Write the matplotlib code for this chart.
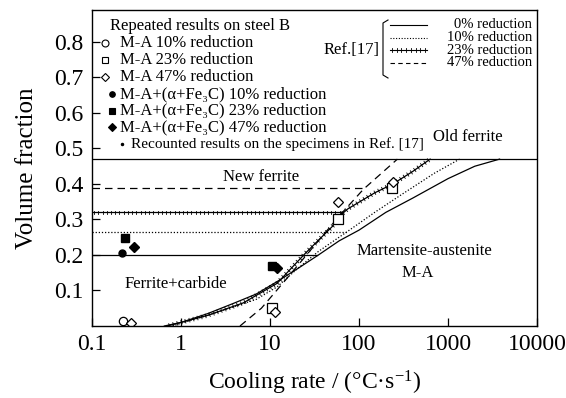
import matplotlib.pyplot as plt
import matplotlib.patheffects as pe
from matplotlib.lines import Line2D

plt.rcParams['font.family'] = ['Liberation Serif', 'DejaVu Serif']
plt.rcParams['mathtext.fontset'] = 'custom'
plt.rcParams['mathtext.rm'] = 'Liberation Serif'
plt.rcParams['mathtext.it'] = 'Liberation Serif:italic'

# Ref.[17] curves (cooling rate, volume fraction)
rate_0 = [0.65, 1, 2, 4, 7, 12, 20, 35, 60, 100, 200, 400, 1000, 2000, 3800]
frac_0 = [0.0, 0.01, 0.035, 0.065, 0.09, 0.125, 0.16, 0.2, 0.24, 0.27, 0.32, 0.36, 0.415, 0.45, 0.47]
rate_10 = [0.8, 2, 4, 7, 12, 20, 35, 73, 150, 300, 700, 1350]
frac_10 = [0.0, 0.03, 0.055, 0.075, 0.11, 0.16, 0.21, 0.265, 0.32, 0.37, 0.43, 0.47]
rate_23 = [0.7, 2, 5, 12, 25, 50, 64, 75, 150, 240, 400, 630]
frac_23 = [0.0, 0.03, 0.065, 0.12, 0.205, 0.28, 0.315, 0.33, 0.375, 0.40, 0.435, 0.47]
rate_47 = [4.6, 8, 15, 30, 60, 112, 270]
frac_47 = [0.0, 0.05, 0.13, 0.22, 0.31, 0.385, 0.47]

# plateau (new ferrite) levels and where they end
plateau_0, plateau_0_end = 0.20, 34
plateau_10, plateau_10_end = 0.265, 73
plateau_23, plateau_23_end = 0.32, 64
plateau_47, plateau_47_end = 0.39, 117
old_ferrite = 0.47

# repeated results on steel B
ma10_x, ma10_y = [0.224], [0.014]
ma23_x, ma23_y = [10.5, 58, 235], [0.05, 0.30, 0.39]
ma47_x, ma47_y = [0.275, 11.5, 58, 240], [0.008, 0.04, 0.35, 0.405]
mix10_x, mix10_y = [0.22], [0.205]
mix23_x, mix23_y = [0.235, 10.5], [0.248, 0.17]
mix47_x, mix47_y = [0.30, 12], [0.222, 0.163]

W, H = 566, 398
fig = plt.figure(figsize=(W / 100, H / 100), dpi=100)
ax = fig.add_axes([92 / W, 1 - 326 / H, (537 - 92) / W, (326 - 10) / H])


def fp(x, y):
    # figure pixel -> figure fraction
    return x / W, 1 - y / H


lw = 0.9
tick_fx = [pe.TickedStroke(spacing=3, length=0.45, angle=90, linewidth=0.6),
           pe.withTickedStroke(spacing=3, length=0.45, angle=-90, linewidth=0.6)]

ax.axhline(old_ferrite, color='k', lw=lw)
ax.plot([0.1, plateau_0_end], [plateau_0] * 2, color='k', lw=lw)
ax.plot([0.1, plateau_10_end], [plateau_10] * 2, color='k', lw=lw, linestyle=(0, (1, 1.5)))
ax.plot([0.1, plateau_23_end], [plateau_23] * 2, color='k', lw=lw, path_effects=tick_fx)
ax.plot([0.1, plateau_47_end], [plateau_47] * 2, color='k', lw=lw, linestyle=(0, (6, 4)))

ax.plot(rate_0, frac_0, color='k', lw=lw)
ax.plot(rate_10, frac_10, color='k', lw=lw, linestyle=(0, (1, 1.5)))
ax.plot(rate_23, frac_23, color='k', lw=lw, path_effects=tick_fx)
ax.plot(rate_47, frac_47, color='k', lw=lw, linestyle=(0, (6, 4)))

mk = dict(color='k', linestyle='none')
ax.plot(ma10_x, ma10_y, marker='o', mfc='white', ms=6, mew=0.9, **mk)
ax.plot(ma23_x, ma23_y, marker='s', mfc='white', ms=7, mew=0.9, **mk)
ax.plot(ma47_x, ma47_y, marker='D', mfc='white', ms=5, mew=0.9, **mk)
ax.plot(mix10_x, mix10_y, marker='o', ms=5, **mk)
ax.plot(mix23_x, mix23_y, marker='s', ms=6, **mk)
ax.plot(mix47_x, mix47_y, marker='D', ms=5, **mk)

ax.set_xscale('log')
ax.set_xlim(0.1, 10000)
ax.set_ylim(0, 0.89)
ax.set_xticks([0.1, 1, 10, 100, 1000, 10000])
ax.set_xticklabels(['0.1', '1', '10', '100', '1000', '10000'])
ax.set_yticks([0.1, 0.2, 0.3, 0.4, 0.5, 0.6, 0.7, 0.8])
ax.minorticks_off()
ax.tick_params(direction='in', length=6, width=0.9, labelsize=17, pad=6)
for s in ax.spines.values():
    s.set_linewidth(1.0)

ax.set_xlabel('Cooling rate / (°C·s$^{-1}$)', fontsize=17, labelpad=10)
ax.set_ylabel('Volume fraction', fontsize=18, labelpad=12)

# region labels
ax.text(1670, 0.532, 'Old ferrite', fontsize=12, ha='center', va='center')
ax.text(7.9, 0.42, 'New ferrite', fontsize=12, ha='center', va='center')
ax.text(0.88, 0.118, 'Ferrite+carbide', fontsize=12, ha='center', va='center')
ax.text(537, 0.211, 'Martensite-austenite', fontsize=12, ha='center', va='center')
ax.text(457, 0.149, 'M-A', fontsize=12, ha='center', va='center')

# left legend
rows = [26, 43, 60, 77, 94, 110.5, 127, 144]
fig.text(*fp(110, rows[0]), 'Repeated results on steel B', fontsize=12, va='center')
entries = [
    (105, 'o', 'white', 5, 'M-A 10% reduction'),
    (105, 's', 'white', 5, 'M-A 23% reduction'),
    (105, 'D', 'white', 4, 'M-A 47% reduction'),
    (112, 'o', 'k', 4, 'M-A+(α+Fe₃C) 10% reduction'),
    (112, 's', 'k', 4, 'M-A+(α+Fe₃C) 23% reduction'),
    (112, 'D', 'k', 4, 'M-A+(α+Fe₃C) 47% reduction'),
]
for (mx, m, fc, ms, label), ry in zip(entries, rows[1:7]):
    fig.add_artist(Line2D([mx / W], [1 - ry / H], marker=m, mfc=fc, mec='k',
                          ms=ms, mew=0.8, linestyle='none'))
    fig.text(*fp(120, ry), label, fontsize=12, va='center')
fig.add_artist(Line2D([122 / W], [1 - rows[7] / H], marker='.', color='k',
                      ms=3, linestyle='none'))
fig.text(*fp(131, rows[7]), 'Recounted results on the specimens in Ref. [17]',
         fontsize=11, va='center')

# right legend (Ref.[17])
fig.text(*fp(380, 50), 'Ref.[17]', fontsize=12, va='center', ha='right')
bx = [388, 383, 383, 388]
by = [20, 23, 75, 78]
fig.add_artist(Line2D([v / W for v in bx], [1 - v / H for v in by], color='k', lw=0.8))
ref_rows = [25, 37.5, 50, 62.5]
ref_styles = [dict(), dict(linestyle=(0, (1, 1.5))), dict(path_effects=tick_fx),
              dict(linestyle=(0, (4, 3)))]
ref_labels = ['0% reduction', '10% reduction', '23% reduction', '47% reduction']
for ry, st, label in zip(ref_rows, ref_styles, ref_labels):
    fig.add_artist(Line2D([390 / W, 427 / W], [1 - ry / H] * 2, color='k', lw=0.8, **st))
    fig.text(*fp(532, ry), label, fontsize=10.5, va='center', ha='right')

fig.savefig('out.png', dpi=100)
